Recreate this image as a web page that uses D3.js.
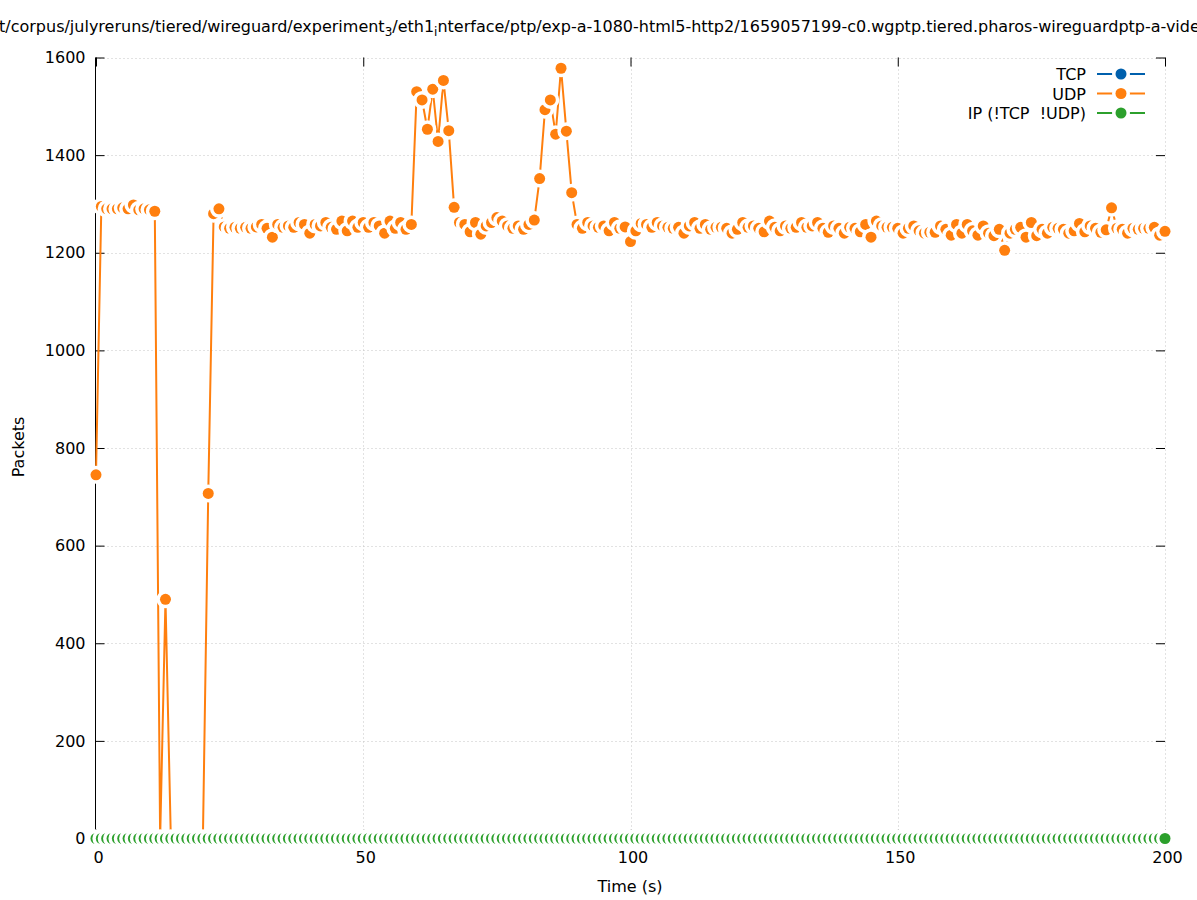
<!DOCTYPE html>
<html><head><meta charset="utf-8">
<script src="https://cdn.jsdelivr.net/npm/d3@7"></script>
<style>
body{margin:0;background:#fff}
svg{display:block}
text{font-family:"DejaVu Sans",sans-serif;fill:#000}
</style>
</head><body>
<svg id="c" width="1197" height="900"></svg>
<script>
// ---- data ----
const times = d3.range(0, 201, 1); // one sample per second, 0..200 s
const udp = [
 745,1295,1290,1290,1290,1292,1290,1298,1288,1290,
 1288,1285,0,490,0,0,0,0,0,0,
 0,707,1280,1290,1253,1250,1252,1250,1252,1250,
 1253,1258,1250,1232,1258,1252,1255,1252,1262,1258,
 1240,1258,1255,1262,1252,1248,1265,1245,1265,1252,
 1262,1252,1262,1255,1240,1265,1250,1262,1248,1258,
 1530,1513,1453,1535,1428,1553,1450,1293,1262,1258,
 1243,1262,1238,1255,1262,1272,1265,1255,1250,1255,
 1248,1258,1267,1352,1493,1513,1443,1578,1449,1323,
 1258,1250,1262,1255,1252,1255,1245,1262,1250,1253,
 1223,1245,1260,1258,1252,1262,1255,1252,1250,1252,
 1240,1255,1262,1250,1258,1248,1252,1252,1250,1240,
 1248,1262,1252,1255,1250,1243,1265,1252,1245,1255,
 1250,1252,1262,1252,1255,1262,1250,1242,1255,1250,
 1240,1252,1250,1243,1258,1232,1265,1255,1252,1252,
 1250,1240,1250,1255,1245,1240,1242,1242,1255,1248,
 1236,1258,1240,1258,1245,1236,1255,1240,1235,1248,
 1205,1240,1248,1252,1232,1262,1235,1248,1240,1252,
 1250,1248,1240,1245,1260,1243,1255,1250,1242,1247,
 1292,1250,1248,1240,1250,1248,1250,1250,1252,1236,
 1244
];
const tcp = [
 0,0,0,0,0,0,0,0,0,0, 0,0,0,0,0,0,0,0,0,0, 0,0,0,0,0,0,0,0,0,0, 0,0,0,0,0,0,0,0,0,0,
 0,0,0,0,0,0,0,0,0,0, 0,0,0,0,0,0,0,0,0,0, 0,0,0,0,0,0,0,0,0,0, 0,0,0,0,0,0,0,0,0,0,
 0,0,0,0,0,0,0,0,0,0, 0,0,0,0,0,0,0,0,0,0, 0,0,0,0,0,0,0,0,0,0, 0,0,0,0,0,0,0,0,0,0,
 0,0,0,0,0,0,0,0,0,0, 0,0,0,0,0,0,0,0,0,0, 0,0,0,0,0,0,0,0,0,0, 0,0,0,0,0,0,0,0,0,0,
 0,0,0,0,0,0,0,0,0,0, 0,0,0,0,0,0,0,0,0,0, 0,0,0,0,0,0,0,0,0,0, 0,0,0,0,0,0,0,0,0,0,
 0
];
const ipOther = [
 0,0,0,0,0,0,0,0,0,0, 0,0,0,0,0,0,0,0,0,0, 0,0,0,0,0,0,0,0,0,0, 0,0,0,0,0,0,0,0,0,0,
 0,0,0,0,0,0,0,0,0,0, 0,0,0,0,0,0,0,0,0,0, 0,0,0,0,0,0,0,0,0,0, 0,0,0,0,0,0,0,0,0,0,
 0,0,0,0,0,0,0,0,0,0, 0,0,0,0,0,0,0,0,0,0, 0,0,0,0,0,0,0,0,0,0, 0,0,0,0,0,0,0,0,0,0,
 0,0,0,0,0,0,0,0,0,0, 0,0,0,0,0,0,0,0,0,0, 0,0,0,0,0,0,0,0,0,0, 0,0,0,0,0,0,0,0,0,0,
 0,0,0,0,0,0,0,0,0,0, 0,0,0,0,0,0,0,0,0,0, 0,0,0,0,0,0,0,0,0,0, 0,0,0,0,0,0,0,0,0,0,
 0
];
const seriesNames = ["TCP", "UDP", "IP (!TCP  !UDP)"];
const seriesColors = ["#0060ad", "#ff7f0e", "#2ca02c"];
const xTicks = [0, 50, 100, 150, 200];
const yTicks = [0, 200, 400, 600, 800, 1000, 1200, 1400, 1600];
const titleParts = [
  {t: "t/corpus/julyreruns/tiered/wireguard/experiment"}, {t: "3", sub: true},
  {t: "/eth1"}, {t: "i", sub: true},
  {t: "nterface/ptp/exp-a-1080-html5-http2/1659057199-c0.wgptp.tiered.pharos-wireguardptp-a-video.pcap"}
];

// ---- layout ----
const FS = "16px";
const svg = d3.select("#c");
const L = 95.5, R = 1165, T = 57.5, B = 838.5;
const x = d3.scaleLinear().domain([0, 200]).range([L + 0.5, R]);
const y = d3.scaleLinear().domain([0, 1600]).range([B, T]);

// grid
const g = svg.append("g");
g.selectAll("line.gx").data(xTicks.filter(d => d > 0)).join("line")
  .attr("x1", d => Math.round(x(d)) + 0.5).attr("x2", d => Math.round(x(d)) + 0.5)
  .attr("y1", T).attr("y2", B)
  .attr("stroke", "#c4c4c4").attr("stroke-width", 1).attr("stroke-dasharray", "1,3");
g.selectAll("line.gy").data(yTicks.filter(d => d > 0)).join("line")
  .attr("x1", L).attr("x2", R)
  .attr("y1", d => Math.round(y(d)) + 0.5).attr("y2", d => Math.round(y(d)) + 0.5)
  .attr("stroke", "#c4c4c4").attr("stroke-width", 1).attr("stroke-dasharray", "1,3");

// axes (gnuplot-like: inward ticks, mirrored)
const axB = d3.axisBottom(x).tickValues(xTicks).tickSize(-9).tickPadding(13).tickFormat(d3.format("d"));
const axL = d3.axisLeft(y).tickValues(yTicks).tickSize(-9).tickPadding(10).tickFormat(d3.format("d"));
const axT = d3.axisTop(x).tickValues(xTicks).tickSize(-9).tickFormat("");
const axR = d3.axisRight(y).tickValues(yTicks).tickSize(-9).tickFormat("");

function style(sel) {
  sel.selectAll("text").attr("font-size", FS).attr("font-family", "DejaVu Sans, sans-serif").attr("fill", "#000");
  sel.selectAll(".tick line").attr("stroke", "#000");
  sel.select(".domain").remove();
}
svg.append("g").attr("transform", `translate(0,${B})`).call(axB).call(style)
  .selectAll(".tick text").attr("dx", 2);
svg.append("g").attr("transform", `translate(${L},0)`).call(axL).call(style);
svg.append("g").attr("transform", `translate(0,${T})`).call(axT).call(style);
svg.append("g").attr("transform", `translate(${R},0)`).call(axR).call(style);
// left & bottom border lines
svg.append("line").attr("x1", L).attr("x2", L).attr("y1", T).attr("y2", B).attr("stroke", "#000");
svg.append("line").attr("x1", L).attr("x2", R).attr("y1", B).attr("y2", B).attr("stroke", "#000");

// series
const allSeries = [tcp, udp, ipOther];
const line = d3.line().x((d, i) => x(times[i])).y(d => y(d));
const plot = svg.append("g");
allSeries.forEach((vals, k) => {
  const sg = plot.append("g");
  sg.append("path").datum(vals).attr("d", line)
    .attr("fill", "none").attr("stroke", seriesColors[k]).attr("stroke-width", 2);
  sg.selectAll("circle").data(vals).join("circle")
    .attr("cx", (d, i) => x(times[i])).attr("cy", d => y(d)).attr("r", 5.5)
    .attr("fill", seriesColors[k]).attr("stroke", "#fff").attr("stroke-width", 7)
    .style("paint-order", "stroke");
});

// legend
const lg = svg.append("g");
seriesNames.forEach((name, k) => {
  const ly = 74 + k * 19.5;
  lg.append("text").attr("x", 1086).attr("y", ly + 6).attr("text-anchor", "end")
    .attr("font-size", FS).style("white-space", "pre").text(name);
  lg.append("line").attr("x1", 1097).attr("x2", 1145).attr("y1", ly).attr("y2", ly)
    .attr("stroke", seriesColors[k]).attr("stroke-width", 2);
  lg.append("circle").attr("cx", 1121).attr("cy", ly).attr("r", 5.5)
    .attr("fill", seriesColors[k]).attr("stroke", "#fff").attr("stroke-width", 7)
    .style("paint-order", "stroke");
});

// title (gnuplot enhanced text: "_x" gives a one-character subscript)
const tt = svg.append("text").attr("x", -1).attr("y", 32).attr("font-size", FS);
titleParts.forEach((p, i) => {
  const ts = tt.append("tspan").text(p.t);
  if (p.sub) ts.attr("font-size", "12px").attr("dy", 4);
  else if (i > 0 && titleParts[i - 1].sub) ts.attr("dy", -4);
});

// axis labels
svg.append("text").attr("x", 630).attr("y", 892).attr("text-anchor", "middle").attr("font-size", FS).text("Time (s)");
svg.append("text").attr("transform", "translate(24,447) rotate(-90)").attr("text-anchor", "middle").attr("font-size", FS).text("Packets");
</script>
</body></html>
